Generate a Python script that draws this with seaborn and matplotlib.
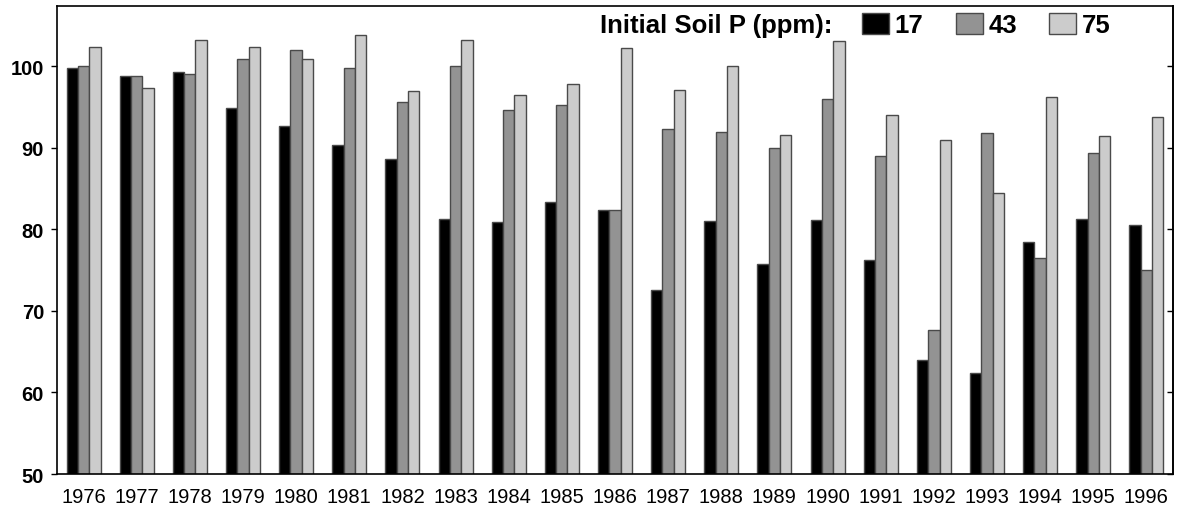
import numpy as np
import pandas as pd
import matplotlib.pyplot as plt
from matplotlib.patches import Patch
import seaborn as sns

# values
years = ['1976', '1977', '1978', '1979', '1980', '1981', '1982', '1983', '1984', '1985', '1986',
         '1987', '1988', '1989', '1990', '1991', '1992', '1993', '1994', '1995', '1996']
p17 = [99.75, 98.8, 99.25, 94.85, 92.65, 90.3, 88.6, 81.25, 80.9, 83.4, 82.35,
       72.6, 81.0, 75.75, 81.15, 76.25, 63.95, 62.4, 78.5, 81.3, 80.5]
p43 = [100.0, 98.85, 99.0, 100.95, 102.0, 99.75, 95.65, 100.0, 94.6, 95.3, 82.35,
       92.35, 91.95, 90.0, 96.0, 89.0, 67.7, 91.8, 76.5, 89.4, 75.05]
p75 = [102.35, 97.35, 103.2, 102.35, 100.85, 103.8, 97.0, 103.2, 96.5, 97.8, 102.3,
       97.1, 100.0, 91.6, 103.1, 94.0, 91.0, 84.5, 96.25, 91.4, 93.8]
levels = ['17', '43', '75']
colors = ['#000000', '#939393', '#cccccc']

df = pd.DataFrame({'Year': years * 3,
                   'Soil P': [levels[0]] * len(years) + [levels[1]] * len(years) + [levels[2]] * len(years),
                   'Yield': p17 + p43 + p75})

sns.set_style('white')
plt.rcParams['font.family'] = ['Liberation Sans', 'DejaVu Sans']
plt.rcParams['text.color'] = 'black'
plt.rcParams['xtick.color'] = 'black'
plt.rcParams['ytick.color'] = 'black'

fig, ax = plt.subplots(figsize=(11.84, 5.10), dpi=100)
fig.subplots_adjust(left=0.0481, right=0.9907, top=0.9863, bottom=0.0686)

sns.barplot(data=df, x='Year', y='Yield', hue='Soil P', hue_order=levels,
            palette=dict(zip(levels, colors)), width=0.64, gap=0,
            edgecolor='#4a4a4a', linewidth=1.0, saturation=1, legend=False, ax=ax)

ax.set_xlim(-0.5, len(years) - 0.5)
ax.set_ylim(50, 107.4)
ax.set_yticks(range(50, 101, 10))
ax.set_xlabel('')
ax.set_ylabel('')

for sp in ax.spines.values():
    sp.set_color('black')
    sp.set_linewidth(1.2)

ax.tick_params(axis='x', length=0, pad=9, labelsize=14.5, labelcolor='black')
ax.tick_params(axis='y', direction='out', length=4.3, width=1, pad=5, labelsize=14.5,
               left=True, color='black', labelcolor='black')
plt.setp(ax.get_yticklabels(), fontweight='bold')

sec = ax.secondary_yaxis('right')
sec.set_yticks(range(50, 101, 10))
sec.tick_params(direction='in', length=4.3, width=1, labelright=False, color='black')
sec.spines['right'].set_linewidth(1.2)
sec.spines['right'].set_color('black')

# legend: title text then three swatches
ax.text(0.4866, 0.9444, 'Initial Soil P (ppm):', transform=ax.transAxes, color='black',
        fontsize=18.5, fontweight='bold', va='baseline', ha='left')
handles = [Patch(facecolor=c, edgecolor='#4a4a4a', linewidth=1.0) for c in colors]
leg = ax.legend(handles, levels, loc='upper left', bbox_to_anchor=(0.7213, 0.985),
                ncol=3, frameon=False, borderpad=0, borderaxespad=0,
                handlelength=1.05, handleheight=0.86, handletextpad=0.23, columnspacing=1.25,
                prop={'size': 18.5, 'weight': 'bold'})
for t in leg.get_texts():
    t.set_color('black')

fig.savefig('out.png', dpi=100)
